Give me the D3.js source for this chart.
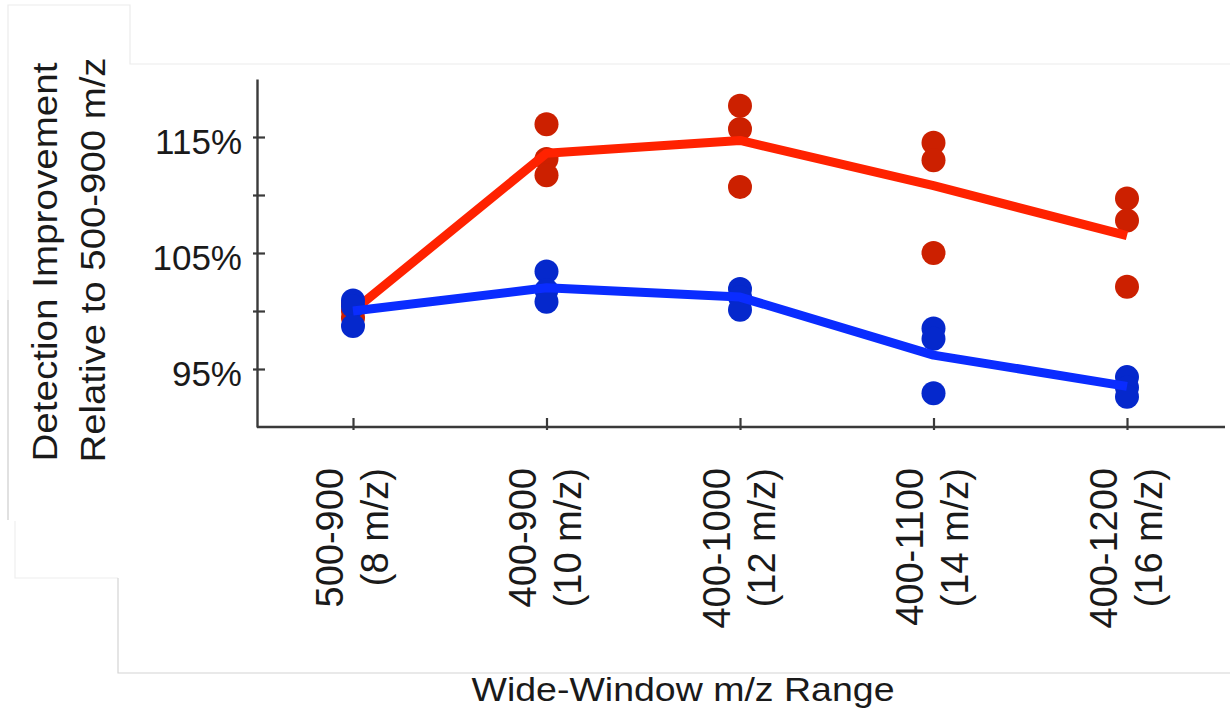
<!DOCTYPE html>
<html>
<head>
<meta charset="utf-8">
<script src="https://cdn.jsdelivr.net/npm/d3@7"></script>
<style>
  html, body { margin: 0; padding: 0; background: #fff; }
  svg { display: block; }
  text { font-family: "Liberation Sans", Arial, Helvetica, sans-serif; fill: #1a1a1a; }
</style>
</head>
<body>
<svg id="chart" width="1230" height="713"></svg>
<script>
// Wide-window ranges and their isolation widths
const rangeLabels = ["500-900", "400-900", "400-1000", "400-1100", "400-1200"];
const widthLabels = ["(8 m/z)", "(10 m/z)", "(12 m/z)", "(14 m/z)", "(16 m/z)"];

// Replicate measurements (% relative to 500-900 m/z)
const redReplicates = [
  [100.6, 99.4, 100.0],
  [116.1, 113.1, 111.7],
  [117.7, 115.7, 110.7],
  [114.5, 113.0, 105.0],
  [109.7, 107.8, 102.1]
];
const blueReplicates = [
  [100.9, 100.4, 98.7],
  [103.4, 101.8, 100.8],
  [101.9, 101.2, 100.1],
  [98.5, 97.6, 92.9],
  [94.3, 93.4, 92.6]
];

// Average trend per range
const redMean = [100.0, 113.6, 114.7, 110.8, 106.5];
const blueMean = [100.0, 102.0, 101.2, 96.2, 93.5];

// Y axis ticks
const yTicks = [90, 95, 100, 105, 110, 115, 120];
const yTickLabels = { 95: "95%", 105: "105%", 115: "115%" };

const svg = d3.select("#chart");

// Faint panel edges around the figure
const frame = svg.append("g").attr("fill", "none").attr("stroke-width", 1.2);
frame.append("path").attr("stroke", "#ececec")
  .attr("d", "M8,520 V5 H130 V64 H1230");
frame.append("path").attr("stroke", "#d6d6d6")
  .attr("d", "M8,300 V520");
frame.append("path").attr("stroke", "#eeeeee")
  .attr("d", "M15,521 V578 H118");
frame.append("path").attr("stroke", "#d4d4d4")
  .attr("d", "M118,578 V673 H1230");

const x = d3.scalePoint().domain(d3.range(rangeLabels.length)).range([353, 1127]);
const y = d3.scaleLinear().domain([90, 120]).range([427, 79]);

const axisColor = "#3a3a3a";

// Y axis
const yAxis = svg.append("g").attr("transform", "translate(257,0)")
  .call(d3.axisLeft(y).tickValues(yTicks).tickSize(0).tickFormat(""));
yAxis.select(".domain").attr("stroke", axisColor).attr("stroke-width", 2.4);
yAxis.selectAll(".tick").filter(d => d !== 90 && d !== 120).append("line")
  .attr("x1", -4).attr("x2", 8).attr("stroke", axisColor).attr("stroke-width", 2.2);
yAxis.selectAll(".tick text").remove();
yAxis.selectAll(".tick").filter(d => yTickLabels[d]).append("text")
  .attr("x", -15).attr("y", 16)
  .attr("text-anchor", "end")
  .style("font-size", "35px")
  .text(d => yTickLabels[d]);

// X axis
const xAxis = svg.append("g").attr("transform", "translate(0,427)")
  .call(d3.axisBottom(x).tickSize(0).tickFormat(""));
xAxis.select(".domain").attr("stroke", axisColor).attr("stroke-width", 2.4)
  .attr("d", "M257,0H1225");
xAxis.selectAll(".tick").append("line")
  .attr("y1", -9).attr("y2", 3).attr("stroke", axisColor).attr("stroke-width", 2.2);
xAxis.selectAll(".tick text").remove();

// Rotated two-line category labels
const labelG = xAxis.selectAll(".tick").append("g")
  .attr("transform", "translate(0,41) rotate(-90)");
labelG.append("text")
  .attr("x", 0).attr("y", -24)
  .attr("dy", "0.35em")
  .attr("text-anchor", "end")
  .style("font-size", "38px")
  .text(i => rangeLabels[i]);
labelG.append("text")
  .attr("x", 0).attr("y", 21)
  .attr("dy", "0.35em")
  .attr("text-anchor", "end")
  .style("font-size", "38px")
  .text(i => widthLabels[i]);

// Axis titles
svg.append("text")
  .attr("transform", "translate(57,262) rotate(-90)")
  .attr("text-anchor", "middle")
  .attr("textLength", 399).attr("lengthAdjust", "spacingAndGlyphs")
  .style("font-size", "35px")
  .text("Detection Improvement");
svg.append("text")
  .attr("transform", "translate(105,260) rotate(-90)")
  .attr("text-anchor", "middle")
  .attr("textLength", 405).attr("lengthAdjust", "spacingAndGlyphs")
  .style("font-size", "35px")
  .text("Relative to 500-900 m/z");
svg.append("text")
  .attr("x", 683).attr("y", 701)
  .attr("text-anchor", "middle")
  .attr("textLength", 423).attr("lengthAdjust", "spacingAndGlyphs")
  .style("font-size", "33px")
  .text("Wide-Window m/z Range");

// Series: replicate dots and mean trend line
const line = d3.line().x((d, i) => x(i)).y(d => y(d));

function drawSeries(replicates, means, dotColor, lineColor) {
  const pts = replicates.flatMap((vals, i) => vals.map(v => ({ i, v })));
  svg.append("g").selectAll("circle").data(pts).join("circle")
    .attr("cx", d => x(d.i)).attr("cy", d => y(d.v))
    .attr("r", 12)
    .attr("fill", dotColor);
  svg.append("path").datum(means)
    .attr("d", line)
    .attr("fill", "none")
    .attr("stroke", lineColor)
    .attr("stroke-width", 9)
    .attr("stroke-linejoin", "round");
}

drawSeries(redReplicates, redMean, "#cc2000", "#ff2200");
drawSeries(blueReplicates, blueMean, "#0528cc", "#0a2cff");
</script>
</body>
</html>
